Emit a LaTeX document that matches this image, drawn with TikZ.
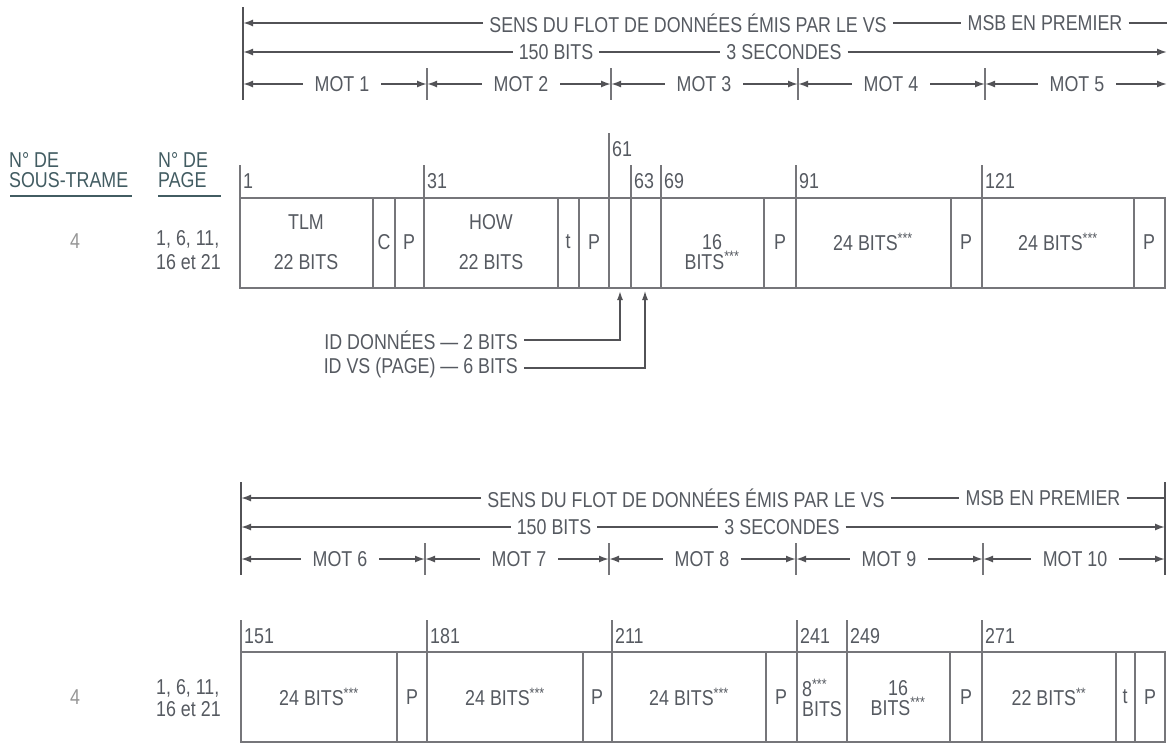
\documentclass[tikz,border=0pt]{standalone}
\usepackage{fontspec}
\setmainfont{Liberation Sans}[FakeStretch=0.83]
\usetikzlibrary{arrows.meta}

\definecolor{inkgray}{RGB}{86,90,97}
\definecolor{rulegray}{RGB}{82,82,86}
\definecolor{boxgray}{RGB}{118,118,122}
\definecolor{headteal}{RGB}{66,92,98}
\definecolor{palegray}{RGB}{150,150,150}

\tikzset{
  lbl/.style={text=inkgray, font=\fontsize{21.5}{22}\selectfont, inner xsep=6pt, inner ysep=1pt},
  motlbl/.style={lbl, inner xsep=12pt},
  numlbl/.style={text=inkgray, font=\fontsize{21.5}{22}\selectfont, inner sep=1pt, anchor=west},
  fld/.style={text=inkgray, font=\fontsize{21.5}{20}\selectfont, align=center, inner sep=0pt},
  headlbl/.style={text=headteal, font=\fontsize{21.5}{20}\selectfont, align=left, inner sep=0pt, anchor=west},
  dimarr/.style={draw=rulegray, line width=1.7pt, -{Latex[length=10pt,width=7pt]}},
  dimline/.style={draw=rulegray, line width=1.4pt},
  bar/.style={draw=rulegray, line width=2pt},
  tick/.style={draw=boxgray, line width=1.2pt},
  box/.style={draw=boxgray, line width=1.5pt},
  idarr/.style={draw=rulegray, line width=1.6pt, -{Latex[length=9pt,width=6pt]}}
}

\begin{document}
\begin{tikzpicture}[x=1pt,y=-1pt]
	\useasboundingbox (0,0) rectangle (1167,744);
	\fill[white] (0,0) rectangle (1167,744);
	%Header arrows, drawn once above each sub-frame half
	\foreach \blk/\dx/\dy/\woff in {a/0/0/0, b/-2/475/5}{
		\begin{scope}[shift={(\dx,\dy)}]
			\draw[bar] (243,7) -- (243,100);
			%direction of flow
			\node[lbl] (sens\blk) at (688,23) {SENS DU FLOT DE DONNÉES ÉMIS PAR LE VS};
			\node[lbl] (msb\blk) at (1045,23) {MSB EN PREMIER};
			\coordinate (sl\blk) at (243,23);
			\coordinate (sr\blk) at (1167,23);
			\draw[dimarr] (sens\blk) -- (sl\blk);
			\draw[dimline] (sens\blk) -- (msb\blk);
			\draw[dimline] (msb\blk) -- (sr\blk);
			%length of frame
			\node[lbl] (bits\blk) at (556,52) {150 BITS};
			\node[lbl] (secs\blk) at (784,52) {3 SECONDES};
			\coordinate (bl\blk) at (243,52);
			\coordinate (br\blk) at (1167,52);
			\draw[dimarr] (bits\blk) -- (bl\blk);
			\draw[dimline] (bits\blk) -- (secs\blk);
			\draw[dimarr] (secs\blk) -- (br\blk);
			%words
			\foreach \n/\xa/\xc/\xb in {1/243/342/427, 2/427/521/611, 3/611/704/798, 4/798/891/985, 5/985/1077/1167}{
				\pgfmathtruncatemacro{\m}{\n+\woff}
				\node[motlbl] (mot\blk\n) at (\xc,84) {MOT \m};
				\coordinate (ml\blk\n) at (\xa,84);
				\coordinate (mr\blk\n) at (\xb,84);
				\draw[dimarr] (mot\blk\n) -- (ml\blk\n);
				\draw[dimarr] (mot\blk\n) -- (mr\blk\n);
			}
			\foreach \xd in {427,611,798,985}
			\draw[tick] (\xd,68) -- (\xd,100);
		\end{scope}
	}
	\draw[bar] (1165,482) -- (1165,575);
	%Column headings
	\node[headlbl] (subfr) at (9,170) {N° DE\\SOUS-TRAME};
	\node[headlbl] (pagenr) at (158,170) {N° DE\\PAGE};
	\draw[headteal, line width=2.5pt] (10,196) -- (132,196);
	\draw[headteal, line width=2.5pt] (158,196) -- (221,196);
	%First half: bits 1 to 150
	\node[fld, text=palegray] (sfa) at (75,241) {4};
	\node[fld, align=left, anchor=west, font=\fontsize{21.5}{24}\selectfont] (pga) at (156,250) {1, 6, 11,\\16 et 21};
	\draw[box] (240,198) rectangle (1165,288);
	\foreach \xd in {373,395,424,558,579,609,631,661,764,796,951,982,1134}
	\draw[box] (\xd,198) -- (\xd,288);
	\foreach \xd/\yt/\num in {240/165/1, 424/165/31, 609/133/61, 631/165/63, 661/165/69, 796/165/91, 982/165/121}{
		\draw[tick] (\xd,\yt) -- (\xd,198);
		\node[numlbl] (bit\num) at (\xd+2,\yt+16) {\num};
	}
	\node[fld, font=\fontsize{21.5}{40}\selectfont] (tlm) at (306,242) {TLM\\22 BITS};
	\node[fld, font=\fontsize{21.5}{40}\selectfont] (how) at (491,242) {HOW\\22 BITS};
	\node[fld] (wd3) at (712,252) {16\\BITS\textsuperscript{***}};
	\foreach \xc/\txt [count=\k] in {384/C, 409/P, 568/t, 594/P, 780/P, 873/24 BITS\textsuperscript{***}, 966/P, 1058/24 BITS\textsuperscript{***}, 1149/P}
	\node[fld] (fa\k) at (\xc,242) {\txt};
	%Data ID and SV ID
	\node[lbl, anchor=east] (iddata) at (524,340) {ID DONNÉES — 2 BITS};
	\node[lbl, anchor=east] (idvs) at (524,368) {ID VS (PAGE) — 6 BITS};
	\coordinate (tipdata) at (620,291);
	\coordinate (tipvs) at (645,291);
	\draw[idarr] (iddata.east) -| (tipdata);
	\draw[idarr, line width=1.1pt] (idvs.east) -| (tipvs);
	%Second half: bits 151 to 300
	\node[fld, text=palegray] (sfb) at (75,697) {4};
	\node[fld, align=left, anchor=west, font=\fontsize{21.5}{22}\selectfont] (pgb) at (156,698) {1, 6, 11,\\16 et 21};
	\draw[box] (241,652) rectangle (1165,742);
	\foreach \xd in {397,427,583,612,766,797,847,950,982,1116,1135}
	\draw[box] (\xd,652) -- (\xd,742);
	\foreach \xd/\num in {241/151, 427/181, 612/211, 797/241, 847/249, 982/271}{
		\draw[tick] (\xd,620) -- (\xd,652);
		\node[numlbl] (bit\num) at (\xd+2,636) {\num};
	}
	\node[fld, align=left] (wd9a) at (822,698) {8\textsuperscript{***}\\BITS};
	\node[fld] (wd9b) at (898,698) {16\\BITS\textsuperscript{***}};
	\foreach \xc/\txt [count=\k] in {319/24 BITS\textsuperscript{***}, 412/P, 505/24 BITS\textsuperscript{***}, 597/P, 689/24 BITS\textsuperscript{***}, 781/P, 966/P, 1049/22 BITS\textsuperscript{**}, 1125/t, 1150/P}
	\node[fld] (fb\k) at (\xc,697) {\txt};
\end{tikzpicture}
\end{document}
